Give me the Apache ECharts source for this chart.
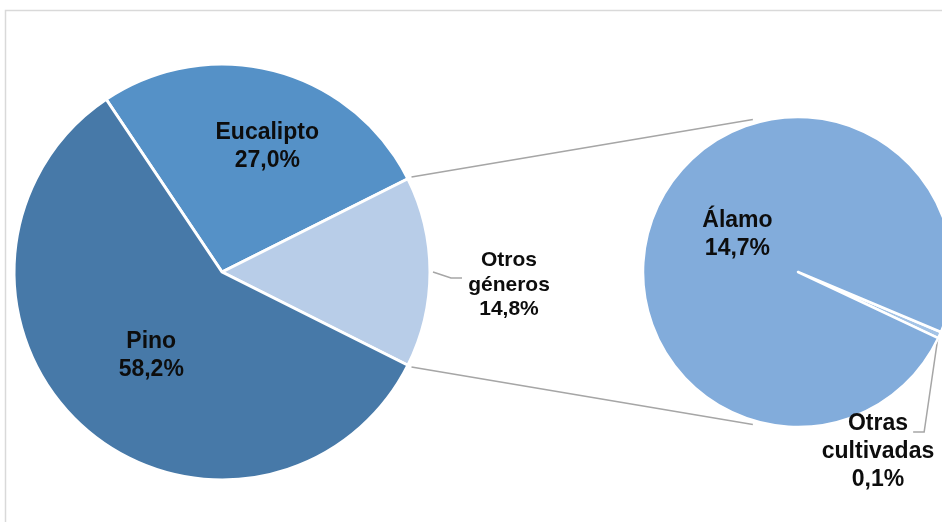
<!DOCTYPE html>
<html>
<head>
<meta charset="utf-8">
<script src="https://cdn.jsdelivr.net/npm/echarts@6/dist/echarts.min.js"></script>
<style>html,body{margin:0;padding:0;background:#fff}#c{width:942px;height:522px}</style>
</head>
<body>
<div id="c"></div>
<script>
// ---- data ----
const mainCategories = ['Eucalipto', 'Otros géneros', 'Pino'];
const mainValues = [27.0, 14.8, 58.2];
const mainLabels = ['Eucalipto\n27,0%', 'Otros\ngéneros\n14,8%', 'Pino\n58,2%'];
const subCategories = ['Otras cultivadas', 'Álamo'];
const subValues = [0.1, 14.7];
const subLabels = ['Otras\ncultivadas\n0,1%', 'Álamo\n14,7%'];

// ---- layout ----
const C1 = [222, 272], R1 = 208;
const C2 = [798, 272], R2 = 155;
const mainColors = ['#5591c7', '#b8cde8', '#4779a8'];
const subColors = ['#a3c3e6', '#82acdb'];
const FONT = '"Liberation Sans", Arial, sans-serif';
const TXT = '#0d0d0d';
const GRAY = '#a6a6a6';

const sumMain = mainValues.reduce((a, b) => a + b, 0);
const sumSub = subValues.reduce((a, b) => a + b, 0);
// "Otros géneros" centred on the right side (0°)
const start1 = (mainValues[0] + mainValues[1] / 2) / sumMain * 360;
// small slice of the second pie centred near -24°
const start2 = -24 + subValues[0] / sumSub * 360 / 2;

function polar(c, r, deg) {
  const a = deg * Math.PI / 180;
  return [c[0] + r * Math.cos(a), c[1] - r * Math.sin(a)];
}

const otrosHalf = mainValues[1] / sumMain * 360 / 2;
const p1a = polar(C1, R1 + 4, otrosHalf);
const p1b = polar(C1, R1 + 4, -otrosHalf);
const p2a = polar(C2, R2 + 4, 106.5);
const p2b = polar(C2, R2 + 4, -106.5);

const baseLabel = {
  color: TXT, fontFamily: FONT, fontWeight: 'bold', fontSize: 23, lineHeight: 28
};

const mainData = mainCategories.map((n, i) => ({
  name: n, value: mainValues[i],
  itemStyle: { color: mainColors[i] },
  label: Object.assign({}, baseLabel, {
    formatter: mainLabels[i],
    position: i === 1 ? 'outside' : 'inside',
    offset: i === 0 ? [18, -22] : (i === 2 ? [0, 3] : [0, 0])
  }, i === 1 ? { fontSize: 21, lineHeight: 24.5 } : {}),
  labelLine: { show: i === 1, lineStyle: { color: GRAY, width: 1.5 } }
}));

const subData = subCategories.map((n, i) => ({
  name: n, value: subValues[i],
  itemStyle: { color: subColors[i] },
  label: Object.assign({}, baseLabel, {
    formatter: subLabels[i],
    position: i === 0 ? 'outside' : 'inside',
    offset: i === 1 ? [13, -5] : [0, 0]
  }),
  labelLine: { show: i === 0, lineStyle: { color: GRAY, width: 1.5 } }
}));

const chart = echarts.init(document.getElementById('c'), null, { renderer: 'canvas' });
chart.setOption({
  animation: false,
  backgroundColor: '#fff',
  graphic: [
    { type: 'rect', z: -10, shape: { x: 5.5, y: 10.5, width: 1200, height: 1200 },
      style: { fill: 'none', stroke: '#d9d9d9', lineWidth: 1.5 } },
    { type: 'line', z: 10, shape: { x1: p1a[0], y1: p1a[1], x2: p2a[0], y2: p2a[1] },
      style: { stroke: GRAY, lineWidth: 1.6 } },
    { type: 'line', z: 10, shape: { x1: p1b[0], y1: p1b[1], x2: p2b[0], y2: p2b[1] },
      style: { stroke: GRAY, lineWidth: 1.6 } }
  ],
  series: [
    {
      type: 'pie', center: C1, radius: R1, startAngle: start1, clockwise: true,
      avoidLabelOverlap: false, silent: true,
      itemStyle: { borderColor: '#fff', borderWidth: 3 },
      data: mainData,
      labelLayout: function (p) {
        if (p.dataIndex !== 1) return {};
        const s = polar(C1, R1 + 3, 0);
        return {
          x: C1[0] + R1 + 79, y: C1[1] + 13, align: 'center', verticalAlign: 'middle',
          labelLinePoints: [s, [s[0] + 18, s[1] + 6], [s[0] + 29, s[1] + 6]]
        };
      }
    },
    {
      type: 'pie', center: C2, radius: R2, startAngle: start2, clockwise: true,
      avoidLabelOverlap: false, silent: true,
      itemStyle: { borderColor: '#fff', borderWidth: 2.5 },
      data: subData,
      labelLayout: function (p) {
        if (p.dataIndex !== 0) return {};
        const s = polar(C2, R2 - 1, -24.5);
        return {
          x: C2[0] + 80, y: C2[1] + 180, align: 'center', verticalAlign: 'middle',
          labelLinePoints: [s, [s[0] - 14, C2[1] + 160], [s[0] - 25, C2[1] + 160]]
        };
      }
    }
  ]
});
</script>
</body>
</html>
